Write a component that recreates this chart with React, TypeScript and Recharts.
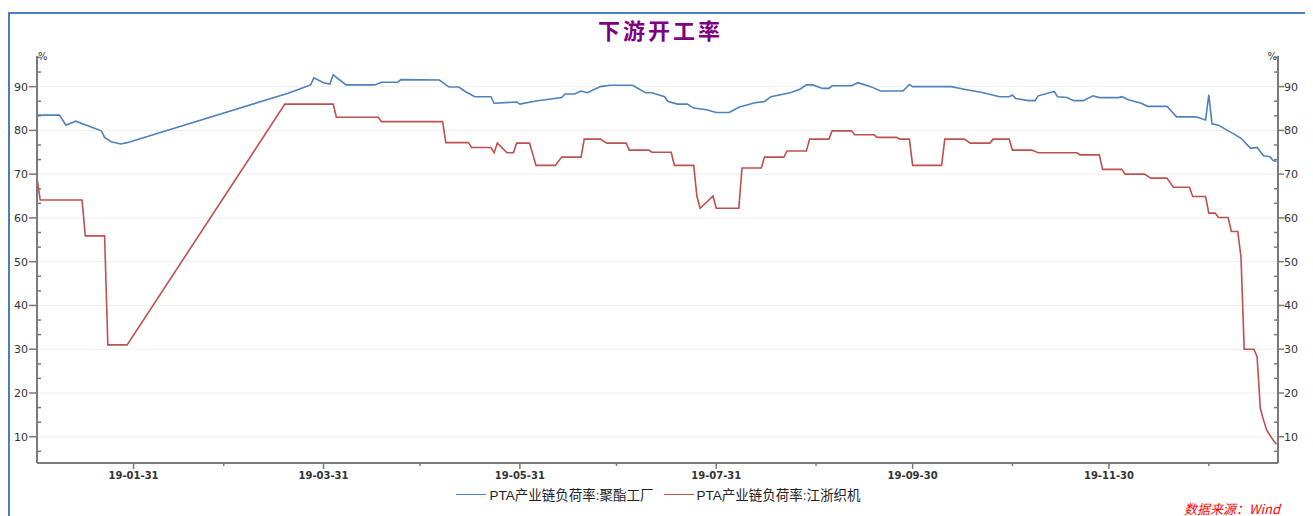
import React from "react";
import { LineChart, Line, XAxis, YAxis, ReferenceLine, Legend } from "recharts";

// ---------------------------------------------------------------------------
// Data
// ---------------------------------------------------------------------------
const polyesterDates = [
  "2019-01-01", "2019-01-08", "2019-01-10", "2019-01-13", "2019-01-21", "2019-01-22",
  "2019-01-24", "2019-01-27", "2019-01-29", "2019-03-20", "2019-03-24", "2019-03-27",
  "2019-03-28", "2019-03-31", "2019-04-02", "2019-04-03", "2019-04-07", "2019-04-16",
  "2019-04-18", "2019-04-23", "2019-04-24", "2019-05-06", "2019-05-09", "2019-05-12",
  "2019-05-14", "2019-05-15", "2019-05-17", "2019-05-22", "2019-05-23", "2019-05-30",
  "2019-05-31", "2019-06-05", "2019-06-13", "2019-06-14", "2019-06-17", "2019-06-19",
  "2019-06-21", "2019-06-25", "2019-06-28", "2019-07-05", "2019-07-09", "2019-07-11",
  "2019-07-15", "2019-07-16", "2019-07-19", "2019-07-22", "2019-07-24", "2019-07-28",
  "2019-07-31", "2019-08-04", "2019-08-07", "2019-08-12", "2019-08-15", "2019-08-17",
  "2019-08-23", "2019-08-26", "2019-08-28", "2019-08-30", "2019-09-02", "2019-09-04",
  "2019-09-05", "2019-09-11", "2019-09-13", "2019-09-17", "2019-09-20", "2019-09-27",
  "2019-09-29", "2019-09-30", "2019-10-12", "2019-10-16", "2019-10-22", "2019-10-27",
  "2019-10-30", "2019-10-31", "2019-11-01", "2019-11-05", "2019-11-07", "2019-11-08",
  "2019-11-13", "2019-11-14", "2019-11-17", "2019-11-19", "2019-11-22", "2019-11-25",
  "2019-11-27", "2019-12-03", "2019-12-04", "2019-12-06", "2019-12-10", "2019-12-12",
  "2019-12-18", "2019-12-21", "2019-12-27", "2019-12-30", "2019-12-31", "2020-01-01",
  "2020-01-03", "2020-01-07", "2020-01-08", "2020-01-10", "2020-01-13", "2020-01-15",
  "2020-01-17", "2020-01-19", "2020-01-20", "2020-01-21",
];
const polyesterValues = [
  83.5, 83.5, 81.2, 82.1, 79.9, 78.4,
  77.4, 76.9, 77.2, 88.5, 89.6, 90.4,
  92.0, 90.9, 90.6, 92.7, 90.4, 90.4,
  91.0, 91.0, 91.6, 91.5, 89.9, 89.9,
  88.9, 88.5, 87.7, 87.7, 86.2, 86.5,
  86.0, 86.7, 87.5, 88.3, 88.3, 89.0,
  88.6, 90.0, 90.3, 90.3, 88.6, 88.6,
  87.7, 86.6, 86.0, 86.0, 85.1, 84.7,
  84.1, 84.1, 85.3, 86.3, 86.6, 87.7,
  88.6, 89.4, 90.4, 90.4, 89.6, 89.6,
  90.2, 90.2, 90.9, 90.0, 89.0, 89.0,
  90.5, 90.0, 90.0, 89.4, 88.6, 87.7,
  87.7, 88.1, 87.3, 86.8, 86.8, 87.9,
  88.9, 87.7, 87.5, 86.8, 86.8, 87.9,
  87.5, 87.5, 87.7, 87.0, 86.2, 85.5,
  85.5, 83.1, 83.1, 82.4, 88.1, 81.5,
  81.2, 79.5, 79.1, 78.2, 75.9, 76.1,
  74.2, 74.0, 73.1, 72.9,
];

const weavingDates = [
  "2019-01-01", "2019-01-02", "2019-01-15", "2019-01-16", "2019-01-22", "2019-01-23",
  "2019-01-29", "2019-03-19", "2019-04-03", "2019-04-04", "2019-04-17", "2019-04-18",
  "2019-05-07", "2019-05-08", "2019-05-15", "2019-05-16", "2019-05-22", "2019-05-23",
  "2019-05-24", "2019-05-27", "2019-05-29", "2019-05-30", "2019-06-03", "2019-06-05",
  "2019-06-11", "2019-06-13", "2019-06-19", "2019-06-20", "2019-06-25", "2019-06-27",
  "2019-07-03", "2019-07-04", "2019-07-10", "2019-07-11", "2019-07-17", "2019-07-18",
  "2019-07-24", "2019-07-25", "2019-07-26", "2019-07-30", "2019-07-31", "2019-08-07",
  "2019-08-08", "2019-08-14", "2019-08-15", "2019-08-21", "2019-08-22", "2019-08-28",
  "2019-08-29", "2019-09-04", "2019-09-05", "2019-09-11", "2019-09-12", "2019-09-18",
  "2019-09-19", "2019-09-25", "2019-09-26", "2019-09-29", "2019-09-30", "2019-10-09",
  "2019-10-10", "2019-10-16", "2019-10-18", "2019-10-24", "2019-10-25", "2019-10-30",
  "2019-10-31", "2019-11-06", "2019-11-08", "2019-11-20", "2019-11-21", "2019-11-27",
  "2019-11-28", "2019-12-04", "2019-12-05", "2019-12-11", "2019-12-13", "2019-12-18",
  "2019-12-20", "2019-12-25", "2019-12-26", "2019-12-30", "2019-12-31", "2020-01-02",
  "2020-01-03", "2020-01-06", "2020-01-07", "2020-01-09", "2020-01-10", "2020-01-11",
  "2020-01-14", "2020-01-15", "2020-01-16", "2020-01-17", "2020-01-18", "2020-01-20",
  "2020-01-21",
];
const weavingValues = [
  69.1, 64.1, 64.1, 55.9, 55.9, 31.0,
  31.0, 86.0, 86.0, 83.0, 83.0, 82.0,
  82.0, 77.2, 77.2, 76.1, 76.1, 74.9,
  77.1, 74.9, 74.9, 77.1, 77.1, 72.0,
  72.0, 73.9, 73.9, 78.0, 78.0, 77.1,
  77.1, 75.5, 75.5, 75.0, 75.0, 72.0,
  72.0, 64.9, 62.2, 65.0, 62.2, 62.2,
  71.4, 71.4, 73.9, 73.9, 75.3, 75.3,
  78.0, 78.0, 79.9, 79.9, 79.0, 79.0,
  78.4, 78.4, 78.0, 78.0, 72.0, 72.0,
  78.0, 78.0, 77.1, 77.1, 78.0, 78.0,
  75.5, 75.5, 74.9, 74.9, 74.4, 74.4,
  71.1, 71.1, 70.0, 70.0, 69.1, 69.1,
  67.0, 67.0, 64.9, 64.9, 61.1, 61.1,
  60.1, 60.1, 56.9, 56.9, 51.1, 30.0,
  30.0, 28.3, 16.5, 13.8, 11.5, 9.2,
  8.3,
];

// month-end ticks; every other one carries a label
const xTickDates = [
  "2019-01-31", "2019-02-28", "2019-03-31", "2019-04-30", "2019-05-31", "2019-06-30",
  "2019-07-31", "2019-08-31", "2019-09-30", "2019-10-31", "2019-11-30", "2019-12-31",
];
const xTickLabels = ["19-01-31", "", "19-03-31", "", "19-05-31", "", "19-07-31", "", "19-09-30", "", "19-11-30", ""];
const yMajorTicks = [10, 20, 30, 40, 50, 60, 70, 80, 90];

const BLUE = "#4f81bd";
const RED = "#c0504d";
const AXIS = "#7a7a7a";
const TICK_FONT = "'DejaVu Sans', Verdana, sans-serif";
const CJK_FONT = "'Liberation Sans', 'Noto Sans CJK SC', sans-serif";

// ---------------------------------------------------------------------------
// Helpers
// ---------------------------------------------------------------------------
const DAY0 = Date.UTC(2019, 0, 1);
const toDay = (s: string) => {
  const [y, m, d] = s.split("-").map(Number);
  return (Date.UTC(y, m - 1, d) - DAY0) / 86400000;
};

const rows: Record<number, { day: number; polyester?: number; weaving?: number }> = {};
polyesterDates.forEach((d, i) => {
  const k = toDay(d);
  rows[k] = { ...(rows[k] || { day: k }), polyester: polyesterValues[i] };
});
weavingDates.forEach((d, i) => {
  const k = toDay(d);
  rows[k] = { ...(rows[k] || { day: k }), weaving: weavingValues[i] };
});
const data = Object.values(rows).sort((a, b) => a.day - b.day);

const xTicks = xTickDates.map(toDay);
const labelByDay: Record<number, string> = {};
xTicks.forEach((t, i) => (labelByDay[t] = xTickLabels[i]));

// major ticks plus two minor ticks between them (every 10/3)
const yTicks: number[] = [];
for (let k = 2; k <= 29; k++) yTicks.push((k * 10) / 3);
const isMajor = (v: number) => yMajorTicks.some((m) => Math.abs(m - v) < 0.01);

// ---------------------------------------------------------------------------
// Tick renderers
// ---------------------------------------------------------------------------
function LeftTick(props: any) {
  const { x, y, payload } = props;
  const v = payload.value as number;
  if (!isMajor(v)) return <line x1={x} x2={x + 4} y1={y} y2={y} stroke={AXIS} strokeWidth={1.5} />;
  return (
    <g>
      <line x1={x - 8} x2={x} y1={y} y2={y} stroke={AXIS} strokeWidth={1.5} />
      <text x={x - 9} y={y + 4} textAnchor="end" fontSize={11} fontFamily={TICK_FONT} fill="#333">
        {Math.round(v)}
      </text>
    </g>
  );
}

function RightTick(props: any) {
  const { x, y, payload } = props;
  const v = payload.value as number;
  if (!isMajor(v)) return <line x1={x - 4} x2={x} y1={y} y2={y} stroke={AXIS} strokeWidth={1.5} />;
  return (
    <g>
      <line x1={x} x2={x + 6} y1={y} y2={y} stroke={AXIS} strokeWidth={1.5} />
      <text x={x + 6} y={y + 4} textAnchor="start" fontSize={11} fontFamily={TICK_FONT} fill="#333">
        {Math.round(v)}
      </text>
    </g>
  );
}

function BottomTick(props: any) {
  const { x, y, payload } = props;
  const label = labelByDay[payload.value as number];
  if (!label) return <line x1={x} x2={x} y1={y} y2={y + 3} stroke={AXIS} strokeWidth={1.5} />;
  return (
    <g>
      <line x1={x} x2={x} y1={y} y2={y + 6} stroke={AXIS} strokeWidth={1.5} />
      <text x={x} y={y + 16} textAnchor="middle" fontSize={10} fontWeight="bold" fontFamily={TICK_FONT} fill="#333">
        {label}
      </text>
    </g>
  );
}

function LegendContent() {
  const items = [
    { name: "PTA产业链负荷率:聚酯工厂", color: BLUE },
    { name: "PTA产业链负荷率:江浙织机", color: RED },
  ];
  return (
    <div style={{ display: "flex", justifyContent: "center", alignItems: "center", height: 22, gap: 10 }}>
      {items.map((it) => (
        <div key={it.name} style={{ display: "flex", alignItems: "center" }}>
          <div style={{ width: 30, height: 0, borderTop: `1.5px solid ${it.color}`, marginRight: 3 }} />
          <span style={{ fontFamily: CJK_FONT, fontSize: 13.5, color: "#222", whiteSpace: "nowrap" }}>{it.name}</span>
        </div>
      ))}
    </div>
  );
}

// ---------------------------------------------------------------------------
// Chart
// ---------------------------------------------------------------------------
export default function App() {
  return (
    <div style={{ position: "relative", width: 1297, height: 508 }}>
      <div
        style={{
          position: "absolute",
          left: 0,
          top: 4,
          width: 1302,
          height: 520,
          border: "2px solid #4a7ebf",
          boxSizing: "border-box",
        }}
      />
      <div
        style={{
          position: "absolute",
          left: 0,
          top: 10,
          width: 1302,
          textAlign: "center",
          fontFamily: "'Noto Sans CJK SC', sans-serif",
          fontWeight: "bold",
          fontSize: 22,
          lineHeight: "22px",
          letterSpacing: 3,
          paddingLeft: 3,
          boxSizing: "border-box",
          color: "#7f007f",
        }}
      >
        下游开工率
      </div>
      <div style={{ position: "absolute", left: 0, top: 4 }}>
        <LineChart width={1301} height={504} data={data} margin={{ top: 44, right: 0, left: 0, bottom: 11 }}>
          <XAxis
            dataKey="day"
            type="number"
            domain={[0, 385.5]}
            allowDataOverflow
            ticks={xTicks}
            interval={0}
            height={20}
            tickSize={0}
            tickMargin={0}
            tickLine={false}
            tick={<BottomTick />}
            axisLine={{ stroke: AXIS, strokeWidth: 2 }}
          />
          <YAxis
            yAxisId="left"
            orientation="left"
            domain={[4, 97]}
            allowDataOverflow
            ticks={yTicks}
            interval={0}
            width={29}
            tickSize={0}
            tickMargin={0}
            tickLine={false}
            tick={<LeftTick />}
            axisLine={{ stroke: AXIS, strokeWidth: 2 }}
            label={(p: any) => (
              <text x={p.viewBox.x + p.viewBox.width + 1} y={p.viewBox.y + 4} fontSize={10} fontFamily={TICK_FONT} fill="#333">
                %
              </text>
            )}
          />
          <YAxis
            yAxisId="right"
            orientation="right"
            domain={[4, 97]}
            allowDataOverflow
            ticks={yTicks}
            interval={0}
            width={31}
            tickSize={0}
            tickMargin={0}
            tickLine={false}
            tick={<RightTick />}
            axisLine={{ stroke: AXIS, strokeWidth: 2 }}
            label={(p: any) => (
              <text x={p.viewBox.x - 1} y={p.viewBox.y + 4} textAnchor="end" fontSize={10} fontFamily={TICK_FONT} fill="#333">
                %
              </text>
            )}
          />
          {yMajorTicks.map((v) => (
            <ReferenceLine key={v} yAxisId="left" y={v} stroke="#eeeeee" strokeWidth={1} />
          ))}
          <Legend verticalAlign="bottom" height={22} content={<LegendContent />} />
          <Line
            yAxisId="left"
            type="linear"
            dataKey="polyester"
            name="PTA产业链负荷率:聚酯工厂"
            stroke={BLUE}
            strokeWidth={1.6}
            dot={false}
            connectNulls
            isAnimationActive={false}
          />
          <Line
            yAxisId="left"
            type="linear"
            dataKey="weaving"
            name="PTA产业链负荷率:江浙织机"
            stroke={RED}
            strokeWidth={1.6}
            dot={false}
            connectNulls
            isAnimationActive={false}
          />
        </LineChart>
      </div>
      <div
        style={{
          position: "absolute",
          left: 1176,
          top: 494,
          fontFamily: "'Noto Sans CJK SC', sans-serif",
          fontStyle: "italic",
          fontSize: 13,
          lineHeight: "13px",
          color: "#ff0000",
          whiteSpace: "nowrap",
        }}
      >
        数据来源：Wind
      </div>
    </div>
  );
}
